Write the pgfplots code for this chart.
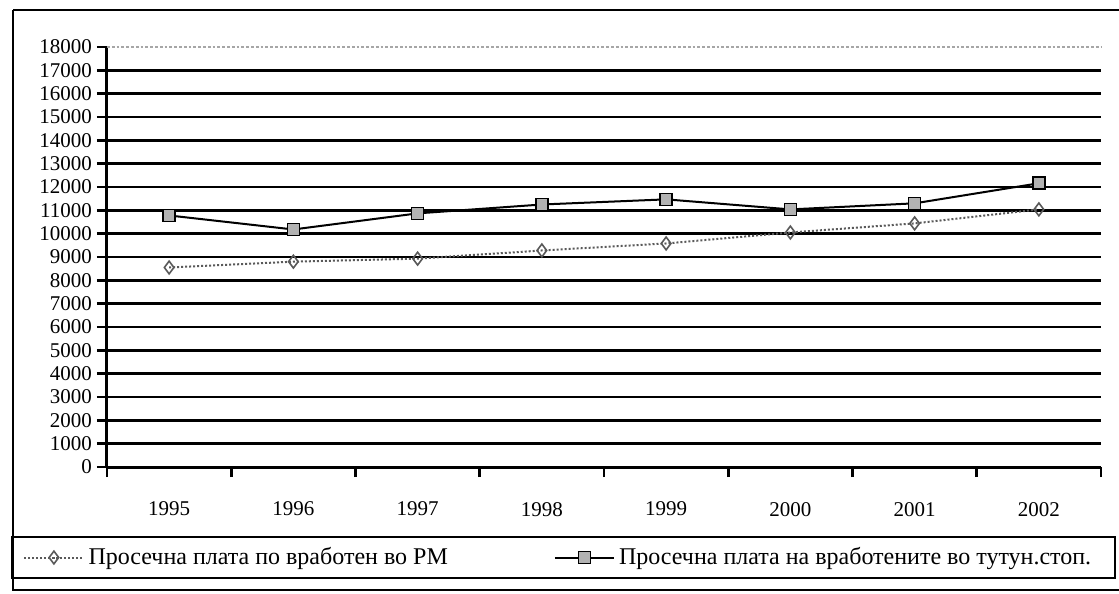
\documentclass[border=0pt]{standalone}
\usepackage{fontspec}
\setmainfont{Liberation Serif}
\usepackage{pgfplots}
\pgfplotsset{compat=1.18}
\begin{document}
\begin{tikzpicture}
\useasboundingbox (0pt,0pt) rectangle (559.5pt,297pt);
\draw[line width=1.2pt] (6.5pt,292pt) -- (565pt,292pt);
\draw[line width=1.2pt] (6.5pt,292pt) -- (6.5pt,2pt) -- (565pt,2pt);
\draw[line width=1pt] (6pt,28.5pt) rectangle (557.5pt,8pt);
\begin{axis}[
  at={(53.5pt,63.5pt)}, anchor=south west,
  scale only axis, width=497pt, height=210pt,
  xmin=-0.5, xmax=7.5, ymin=0, ymax=18000,
  axis lines=left, axis line style={line width=1.5pt, -},
  xtick={0,...,7},
  xticklabels={1995,1996,1997,1998,1999,2000,2001,2002},
  major x tick style={draw=none},
  minor xtick={-0.5,0.5,...,7.5},
  minor x tick style={line width=1.3pt, black},
  minor tick length=5pt,
  ytick={0,1000,...,17000},
  extra y ticks={18000},
  extra y tick style={grid style={densely dotted, gray!70, line width=0.6pt}},
  major y tick style={line width=1.3pt, black},
  major tick length=5pt,
  tick align=outside,
  scaled y ticks=false,
  ymajorgrids, grid style={black, line width=1.4pt},
  /pgf/number format/assume math mode=true,
  /pgf/number format/1000 sep={},
  yticklabel style={font=\fontsize{10.5}{12}\selectfont, xshift=1pt},
  xticklabel style={font=\fontsize{10.5}{12}\selectfont, yshift=-9pt},
  legend columns=2,
  legend style={draw=none, fill=none, at={(-0.0906,-0.2155)}, anchor=west,
    font=\fontsize{12}{14}\selectfont,
    /tikz/every even column/.append style={column sep=51pt}},
  legend image code/.code={\draw[mark repeat=2,mark phase=2,#1] plot coordinates {(0cm,0cm)(0.52cm,0cm)(1.04cm,0cm)};},
  clip=false,
]
\addplot[gray!70!black, densely dotted, line width=1pt, mark=diamond, mark size=3.2pt, mark options={solid, gray!70!black, line width=0.8pt, fill=white}]
  coordinates {(0,8550)(1,8800)(2,8930)(3,9280)(4,9580)(5,10050)(6,10440)(7,11040)};
\addlegendentry{Просечна плата по вработен во РМ}
\addplot[black, line width=1pt, mark=square*, mark size=3pt, mark options={solid, black, fill=gray!60, line width=0.8pt}]
  coordinates {(0,10780)(1,10180)(2,10870)(3,11250)(4,11470)(5,11040)(6,11300)(7,12160)};
\addlegendentry{Просечна плата на вработените во тутун.стоп.}
\end{axis}
\end{tikzpicture}
\end{document}
